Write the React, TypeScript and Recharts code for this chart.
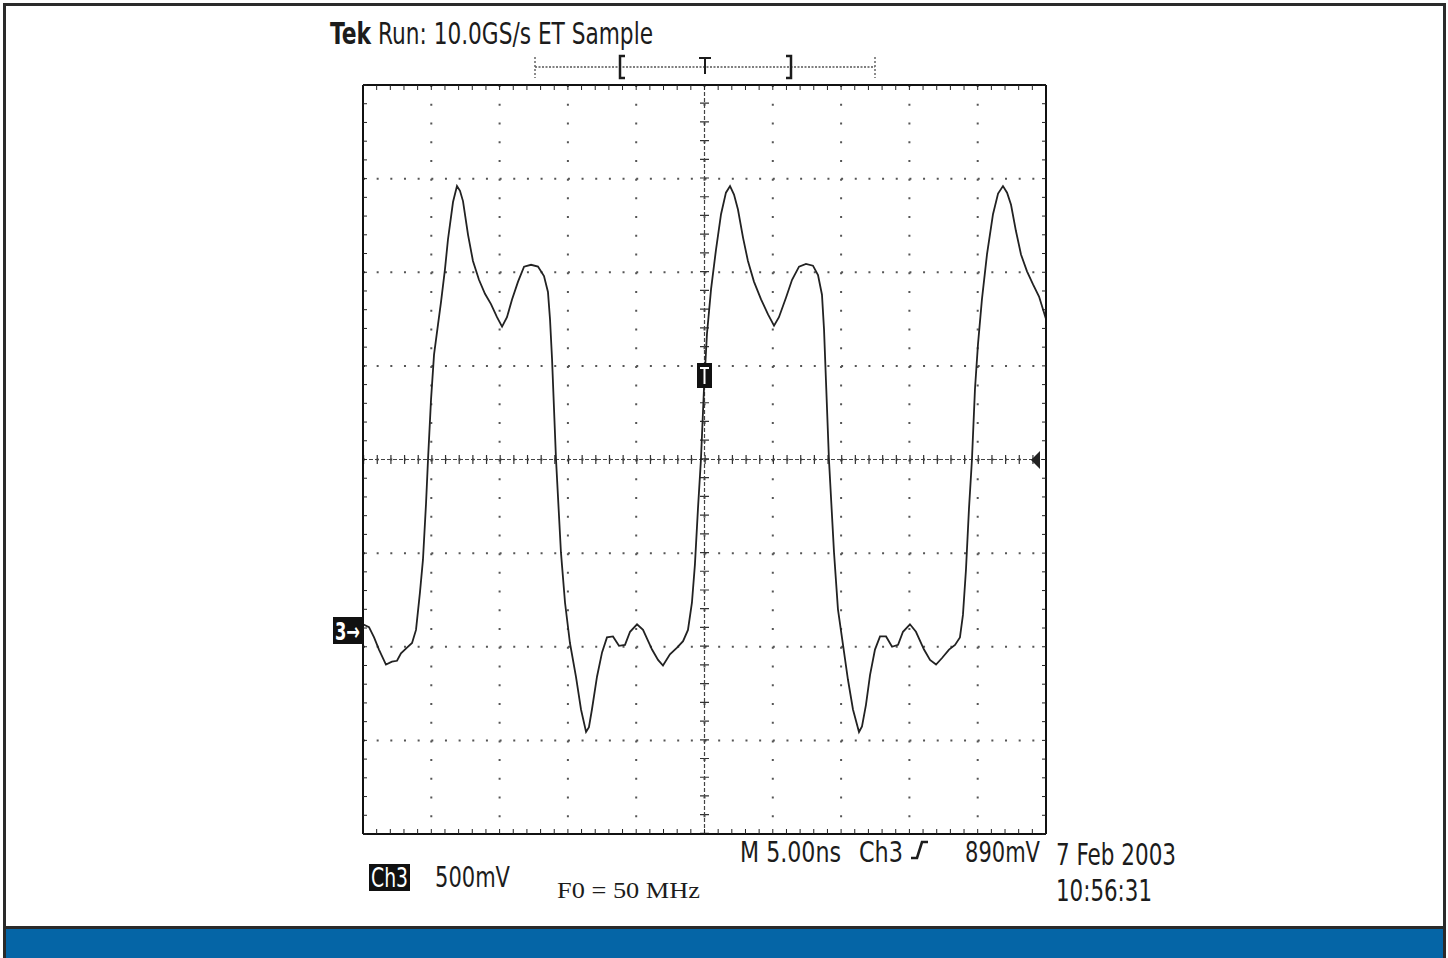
import { LineChart, Line, XAxis, YAxis, CartesianGrid, ReferenceLine } from "recharts";

// Ch3 trace: time in ns from the left edge of the screen, level in divisions from centre (500 mV/div)
const timeNs = [
  0, 0.44, 0.81, 1.17, 1.68, 2.12, 2.49, 2.78, 3.22, 3.59, 3.88, 4.17, 4.39, 4.61, 4.76, 4.98, 5.2, 5.49, 5.71, 6.0,
  6.22, 6.59, 6.88, 7.1, 7.32, 7.69, 8.05, 8.49, 8.93, 9.37, 9.81, 10.18, 10.54, 10.91, 11.35, 11.79, 12.3, 12.81,
  13.25, 13.54, 13.69, 13.84, 14.13, 14.49, 14.79, 15.15, 15.59, 15.96, 16.33, 16.54, 16.76, 17.13, 17.5, 17.86,
  18.3, 18.74, 19.18, 19.55, 20.06, 20.5, 21.16, 21.6, 21.96, 22.47, 22.99, 23.43, 23.79, 24.08, 24.3, 24.52, 24.74,
  24.96, 25.18, 25.48, 25.84, 26.21, 26.57, 26.87, 27.16, 27.45, 27.82, 28.18, 28.62, 29.14, 29.65, 30.09, 30.45,
  30.97, 31.41, 31.92, 32.43, 32.94, 33.31, 33.6, 33.75, 33.89, 34.11, 34.48, 34.77, 35.14, 35.5, 35.87, 36.31,
  36.53, 36.82, 37.12, 37.48, 37.85, 38.29, 38.73, 39.17, 39.53, 40.04, 40.48, 41.07, 41.51, 41.95, 42.39, 42.9,
  43.34, 43.7, 43.92, 44.14, 44.36, 44.58, 44.8, 45.02, 45.31, 45.68, 46.12, 46.49, 46.85, 47.15, 47.44, 47.8,
  48.17, 48.61, 49.05, 49.49, 50,
];
const ch3Div = [
  -1.76, -1.79, -1.9, -2.03, -2.19, -2.16, -2.15, -2.07, -2.01, -1.96, -1.82, -1.42, -1.07, -0.48, 0, 0.64, 1.12,
  1.44, 1.68, 2.03, 2.35, 2.75, 2.92, 2.87, 2.76, 2.4, 2.12, 1.92, 1.77, 1.66, 1.52, 1.42, 1.52, 1.71, 1.9, 2.06,
  2.08, 2.06, 1.96, 1.79, 1.5, 1.07, 0, -0.99, -1.53, -1.96, -2.32, -2.67, -2.91, -2.86, -2.67, -2.32, -2.06, -1.9,
  -1.89, -1.99, -1.98, -1.84, -1.76, -1.82, -2.03, -2.14, -2.2, -2.08, -2.01, -1.94, -1.82, -1.53, -1.12, -0.53, 0,
  0.75, 1.34, 1.82, 2.24, 2.62, 2.85, 2.92, 2.83, 2.67, 2.37, 2.12, 1.9, 1.71, 1.55, 1.43, 1.52, 1.73, 1.92, 2.06,
  2.09, 2.07, 1.97, 1.76, 1.39, 0.85, 0, -0.99, -1.6, -1.98, -2.35, -2.67, -2.91, -2.85, -2.62, -2.3, -2.03, -1.89,
  -1.89, -2.0, -1.98, -1.84, -1.76, -1.84, -2.03, -2.14, -2.19, -2.12, -2.03, -1.98, -1.9, -1.66, -1.18, -0.53, 0,
  0.75, 1.23, 1.71, 2.19, 2.62, 2.84, 2.92, 2.85, 2.72, 2.44, 2.19, 2.01, 1.87, 1.74, 1.5,
];

const majorTimeTicks = [0, 5, 10, 15, 20, 25, 30, 35, 40, 45, 50];
const majorDivTicks = [-4, -3, -2, -1, 0, 1, 2, 3, 4];
const minorTimeTicks = Array.from({ length: 51 }, (_, i) => i);
const minorDivTicks = Array.from({ length: 41 }, (_, i) => -4 + i * 0.2);

const triggerTime = 25;

const data = timeNs.map((t, i) => ({ t, v: ch3Div[i] }));

const ink = "#1c1c1c";
const tekFont = "'Liberation Sans Narrow', 'DejaVu Sans Condensed', 'Open Sans', sans-serif";
const blank = () => "";
const frameLine = { stroke: "#111", strokeWidth: 2 };
const frameTick = { stroke: "#222" };

function Overlay() {
  return (
    <svg width={1448} height={958} style={{ position: "absolute", left: 0, top: 0, pointerEvents: "none" }}>
      {/* page frame and footer band */}
      <rect x={3} y={3} width={1442} height={3} fill="#2a2a2a" />
      <rect x={3} y={3} width={3} height={955} fill="#2a2a2a" />
      <rect x={1443} y={3} width={3} height={955} fill="#2a2a2a" />
      <rect x={3} y={926} width={1443} height={3} fill="#2a2a2a" />
      <rect x={6} y={929} width={1437} height={29} fill="#0565a6" />

      <text x={330} y={44} fontFamily={tekFont} fontSize={31} fontWeight="bold" fill={ink} textLength={41} lengthAdjust="spacingAndGlyphs">Tek</text>
      <text x={378} y={44} fontFamily={tekFont} fontSize={31} fill={ink} textLength={275} lengthAdjust="spacingAndGlyphs">Run: 10.0GS/s ET Sample</text>

      {/* record view bar */}
      <line x1={535} y1={67} x2={875} y2={67} stroke="#555" strokeWidth={1.5} strokeDasharray="2 1.5" />
      <line x1={535} y1={57} x2={535} y2={78} stroke="#666" strokeWidth={1.5} strokeDasharray="2 2" />
      <line x1={875} y1={57} x2={875} y2={78} stroke="#666" strokeWidth={1.5} strokeDasharray="2 2" />
      <path d="M625 56 L620 56 L620 78 L625 78" fill="none" stroke={ink} strokeWidth={2.5} />
      <path d="M786 56 L791 56 L791 78 L786 78" fill="none" stroke={ink} strokeWidth={2.5} />
      <path d="M699 58 L711 58 M705 58 L705 74" fill="none" stroke={ink} strokeWidth={2} />

      {/* trigger position marker */}
      <rect x={697} y={363} width={15} height={25} fill="#111" />
      <path d="M700 368 L709 368 M704.5 368 L704.5 384" stroke="#fff" strokeWidth={2} />

      {/* ground marker */}
      <rect x={333} y={617} width={29} height={27} fill="#111" />
      <text x={335} y={640} fontFamily={tekFont} fontSize={24} fontWeight="bold" fill="#fff" textLength={25} lengthAdjust="spacingAndGlyphs">3→</text>

      {/* trigger level arrow */}
      <polygon points="1031,460 1040,451 1040,469" fill="#222" />

      {/* bottom readouts */}
      <rect x={369} y={864} width={41} height={27} fill="#111" />
      <text x={371} y={887} fontFamily={tekFont} fontSize={27} fill="#fff" textLength={37} lengthAdjust="spacingAndGlyphs">Ch3</text>
      <text x={435} y={887} fontFamily={tekFont} fontSize={29} fill={ink} textLength={75} lengthAdjust="spacingAndGlyphs">500mV</text>
      <text x={557} y={898} fontFamily="'Liberation Serif', 'DejaVu Serif', serif" fontSize={23} fill={ink} textLength={143} lengthAdjust="spacingAndGlyphs">F0 = 50 MHz</text>

      <text x={740} y={862} fontFamily={tekFont} fontSize={29} fill={ink} textLength={101} lengthAdjust="spacingAndGlyphs">M 5.00ns</text>
      <text x={859} y={862} fontFamily={tekFont} fontSize={29} fill={ink} textLength={44} lengthAdjust="spacingAndGlyphs">Ch3</text>
      <path d="M911 858 L917 858 L922 842 L928 842" fill="none" stroke={ink} strokeWidth={2.6} />
      <text x={965} y={862} fontFamily={tekFont} fontSize={29} fill={ink} textLength={75} lengthAdjust="spacingAndGlyphs">890mV</text>

      <text x={1056} y={865} fontFamily={tekFont} fontSize={30} fill={ink} textLength={120} lengthAdjust="spacingAndGlyphs">7 Feb 2003</text>
      <text x={1056} y={901} fontFamily={tekFont} fontSize={30} fill={ink} textLength={96} lengthAdjust="spacingAndGlyphs">10:56:31</text>
    </svg>
  );
}

export default function App() {
  return (
    <div style={{ position: "absolute", left: 0, top: 0, width: 1448, height: 958, background: "#fff" }}>
      <LineChart width={1448} height={958} data={data} margin={{ top: 85, left: 363, right: 402, bottom: 124 }}>
        {/* dotted graticule */}
        <CartesianGrid horizontal={false} stroke="#555" strokeWidth={2} strokeDasharray="2 16.725" />
        <CartesianGrid vertical={false} stroke="#555" strokeWidth={2} strokeDasharray="2 11.66" />

        <XAxis xAxisId={0} dataKey="t" type="number" domain={[0, 50]} ticks={majorTimeTicks} hide />
        <YAxis yAxisId={0} dataKey="v" type="number" domain={[-4, 4]} ticks={majorDivTicks} hide />

        {/* frame with inward minor ticks */}
        <XAxis xAxisId="bottom" dataKey="t" type="number" orientation="bottom" mirror domain={[0, 50]} allowDataOverflow
          ticks={minorTimeTicks} interval={0} tickSize={5} tickFormatter={blank} axisLine={frameLine} tickLine={frameTick} />
        <XAxis xAxisId="top" dataKey="t" type="number" orientation="top" mirror domain={[0, 50]} allowDataOverflow
          ticks={minorTimeTicks} interval={0} tickSize={5} tickFormatter={blank} axisLine={frameLine} tickLine={frameTick} />
        <YAxis yAxisId="left" dataKey="v" type="number" orientation="left" mirror domain={[-4, 4]} allowDataOverflow
          ticks={minorDivTicks} interval={0} tickSize={4} tickFormatter={blank} axisLine={frameLine} tickLine={frameTick} />
        <YAxis yAxisId="right" dataKey="v" type="number" orientation="right" mirror domain={[-4, 4]} allowDataOverflow
          ticks={minorDivTicks} interval={0} tickSize={4} tickFormatter={blank} axisLine={frameLine} tickLine={frameTick} />

        {/* centre crosshair with minor ticks */}
        <ReferenceLine y={0} stroke="#333" strokeWidth={9} strokeDasharray="1.2 12.46" />
        <ReferenceLine y={0} stroke="#444" strokeWidth={1.2} strokeDasharray="4 2" />
        <ReferenceLine x={triggerTime} stroke="#333" strokeWidth={9} strokeDasharray="1.2 17.525" />
        <ReferenceLine x={triggerTime} stroke="#444" strokeWidth={1.2} strokeDasharray="4 2" />

        <Line type="linear" dataKey="v" stroke="#222" strokeWidth={1.8} dot={false} isAnimationActive={false} />
      </LineChart>
      <Overlay />
    </div>
  );
}
